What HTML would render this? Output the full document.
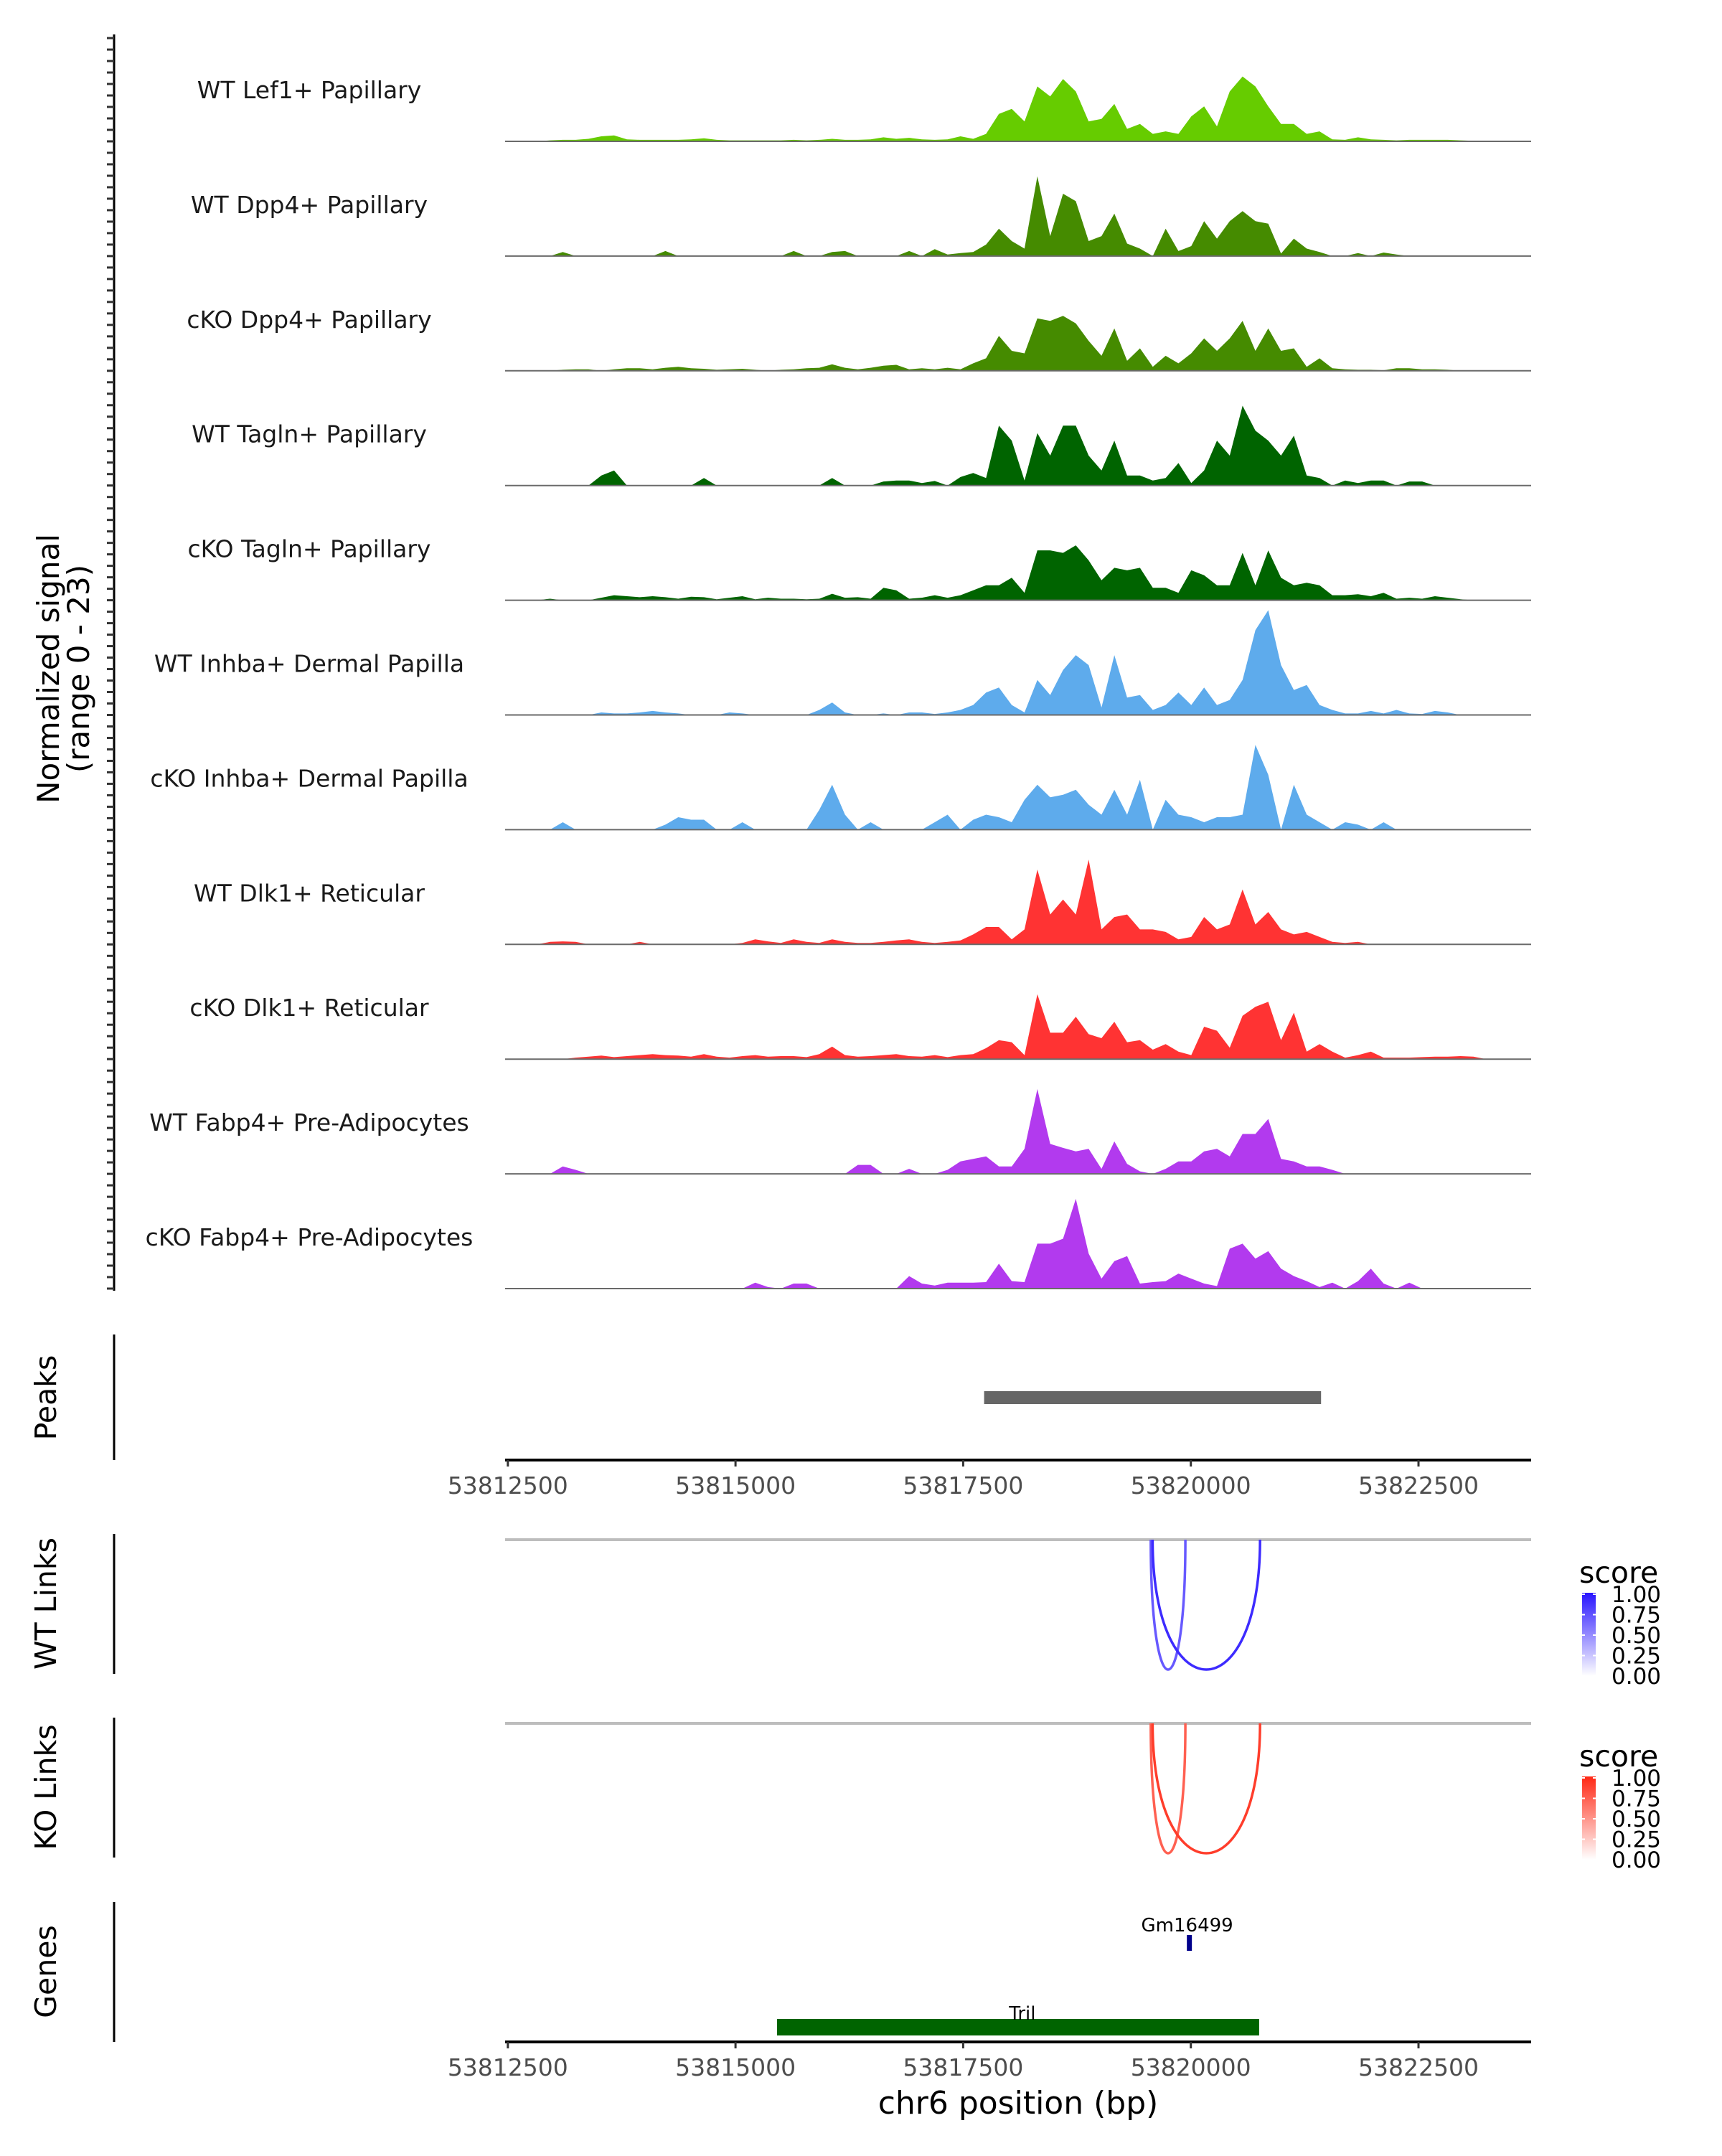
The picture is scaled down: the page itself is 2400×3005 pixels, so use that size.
<!DOCTYPE html>
<html><head><meta charset="utf-8"><style>
html,body{margin:0;padding:0;background:#fff}
svg text{font-family:"DejaVu Sans","Liberation Sans",sans-serif}
</style></head><body>
<svg id="fig" width="2400" height="3000" viewBox="0 0 2400 3000" xmlns="http://www.w3.org/2000/svg">
<rect width="2400" height="3000" fill="#fff"/>
<g id="tracks"></g>
<g id="leftaxis"></g>
<text transform="translate(82,932) rotate(-90)" text-anchor="middle" font-size="42" fill="#000">Normalized signal</text>
<text transform="translate(124,932) rotate(-90)" text-anchor="middle" font-size="42" fill="#000">(range 0 - 23)</text>
<g id="peaks"></g>
<g id="links"></g>
<g id="genes"></g>
<g id="xaxes"></g>
<text x="1419" y="2946" text-anchor="middle" font-size="44" fill="#000">chr6 position (bp)</text>
</svg>
<script>
const trackNames = ["WT Lef1+ Papillary","WT Dpp4+ Papillary","cKO Dpp4+ Papillary","WT Tagln+ Papillary","cKO Tagln+ Papillary","WT Inhba+ Dermal Papilla","cKO Inhba+ Dermal Papilla","WT Dlk1+ Reticular","cKO Dlk1+ Reticular","WT Fabp4+ Pre-Adipocytes","cKO Fabp4+ Pre-Adipocytes"];
const trackColors = ["#66cc00","#458b00","#458b00","#006400","#006400","#5eabec","#5eabec","#ff3333","#ff3333","#b23aee","#b23aee"];
const t1 = [0,0,0,0.2,0.3,0.3,0.5,1,1.2,0.4,0.3,0.3,0.3,0.3,0.4,0.6,0.3,0.2,0.2,0.2,0.2,0.2,0.3,0.2,0.3,0.5,0.3,0.3,0.4,0.8,0.5,0.7,0.4,0.3,0.4,1,0.5,1.5,5.5,6.5,4,11,9,12.5,10,4,4.5,7.5,2.5,3.5,1.5,2,1.5,5,7,3,10,13,11,7,3.5,3.5,1.5,2,0.4,0.3,0.8,0.4,0.3,0.2,0.3,0.3,0.3,0.3,0.2,0.1,0,0,0,0];
const t2 = [0,0,0,0,0.8,0,0,0,0,0,0,0,1,0,0,0,0,0,0,0,0,0,1,0,0,0.8,1,0,0,0,0,1,0,1.4,0.3,0.6,0.8,2.3,5.5,3,1.5,16,4,12.5,11,3,4,8.5,2.5,1.5,0,5.5,1,2,7,3.5,7,9,7,6.5,0.5,3.5,1.5,0.8,0,0,0.6,0,0.7,0.3,0,0,0,0,0,0,0,0,0,0];
const t3 = [0,0,0,0,0.2,0.3,0.3,0,0.3,0.5,0.5,0.3,0.6,0.8,0.5,0.4,0.2,0.3,0.4,0.2,0,0.2,0.3,0.5,0.6,1.3,0.6,0.3,0.6,1,1.2,0.3,0.5,0.3,0.6,0.3,1.5,2.5,7,4,3.5,10.5,10,11,9.5,6,3,8.5,2,4.5,0.8,3,1.5,3.5,6.5,4,6.5,10,4,8.5,4,4.5,0.8,2.5,0.5,0.3,0.2,0.2,0.1,0.5,0.5,0.3,0.3,0.2,0,0,0,0,0,0];
const t4 = [0,0,0,0,0,0,0,2,3,0,0,0,0,0,0,1.5,0,0,0,0,0,0,0,0,0,1.5,0,0,0,0.8,1,1,0.5,0.9,0,1.7,2.5,1.5,12,9,1,10.5,6,12,12,6,3,9,2,2,1,1.5,4.5,0.5,3,9,6,16,11,9,6,10,2,1.5,0,1,0.5,1,1,0,0.8,0.8,0,0,0,0,0,0,0,0];
const t5 = [0,0,0,0.3,0,0,0,0.5,1,0.8,0.6,0.8,0.6,0.3,0.7,0.6,0.2,0.5,0.8,0.2,0.5,0.3,0.3,0.2,0.3,1.3,0.5,0.6,0.3,2.5,2,0.3,0.5,1,0.5,1,2,3,3,4.5,1.5,10,10,9.5,11,8,4,6.5,6,6.5,2.5,2.5,1.5,6,5,3,3,9.5,3,10,4.5,3,3.5,3,1,1,1.2,0.8,1.5,0.3,0.5,0.3,0.8,0.5,0.2,0,0,0,0,0];
const t6 = [0,0,0,0,0,0,0,0.5,0.3,0.3,0.5,0.8,0.5,0.3,0,0,0,0.5,0.3,0,0,0,0,0,1,2.5,0.5,0,0,0.3,0,0.5,0.5,0.2,0.5,1,2,4.5,5.5,2,0.5,7,4,9,12,10,1.5,12,3.5,4,1,2,4.5,2,5.5,2,3,7,17,21,10,5,6,2,1,0.3,0.3,0.8,0.3,1,0.3,0.2,0.8,0.5,0,0,0,0,0,0];
const t7 = [0,0,0,0,1.5,0,0,0,0,0,0,0,1,2.5,2,2,0,0,1.5,0,0,0,0,0,4,9,3,0,1.5,0,0,0,0,1.5,3,0,2,3,2.5,1.5,6,9,6.5,7,8,5,3,8,3,10,0,6,3,2.5,1.5,2.5,2.5,3,17,11,0,9,3,1.5,0,1.5,1,0,1.5,0,0,0,0,0,0,0,0,0,0,0];
const t8 = [0,0,0,0.5,0.6,0.5,0,0,0,0,0.5,0,0,0,0,0,0,0,0.3,1,0.6,0.3,1,0.5,0.3,1,0.5,0.3,0.3,0.5,0.8,1,0.5,0.3,0.5,0.8,2,3.5,3.5,1,3,15,6,9,6,17,3,5.5,6,3,3,2.5,1,1.5,5.5,3,4,11,4,6.5,3,2,2.5,1.5,0.5,0.3,0.5,0,0,0,0,0,0,0,0,0,0,0,0,0];
const t9 = [0,0,0,0,0,0.3,0.5,0.7,0.4,0.6,0.8,1,0.8,0.7,0.5,1,0.5,0.3,0.6,0.8,0.5,0.6,0.6,0.4,1,2.5,0.8,0.5,0.6,0.8,1,0.6,0.5,0.8,0.4,0.8,1,2.2,3.8,3.4,0.8,13,5.3,5.3,8.5,5,4.2,7.5,3.4,3.8,1.9,3,1.5,0.8,6.5,5.7,2.3,8.7,10.5,11.5,3.8,9.3,1.5,3,1.5,0.3,0.8,1.5,0.3,0.3,0.3,0.4,0.5,0.5,0.6,0.5,0,0,0,0];
const t10 = [0,0,0,0,1.5,0.8,0,0,0,0,0,0,0,0,0,0,0,0,0,0,0,0,0,0,0,0,0,1.8,1.8,0,0,1,0,0,0.8,2.5,3,3.5,1.5,1.5,5,17,6,5.2,4.5,5,1,6.5,2,0.5,0,1,2.5,2.5,4.5,5,3.5,8,8,11,3,2.5,1.5,1.5,0.8,0,0,0,0,0,0,0,0,0,0,0,0,0,0,0];
const t11 = [0,0,0,0,0,0,0,0,0,0,0,0,0,0,0,0,0,0,0,1.2,0.3,0,1,1,0,0,0,0,0,0,0,2.5,1,0.6,1.2,1.2,1.2,1.3,5,1.5,1.3,9,9,10,18,7,2,5.5,6.5,1,1.3,1.5,3,2,1,0.5,8,9,6,7.5,4,2.5,1.5,0.3,1.2,0,1.5,4,1,0,1.2,0,0,0,0,0,0,0,0,0];
const signals = [t1,t2,t3,t4,t5,t6,t7,t8,t9,t10,t11];
const xTicks = [53812500,53815000,53817500,53820000,53822500];
const peakRegion = [53817730,53821430];
const wtLinkStarts = [53819560,53819580];
const wtLinkEnds = [53819940,53820760];
const wtLinkScores = [0.55,0.85];
const koLinkStarts = [53819560,53819580];
const koLinkEnds = [53819940,53820760];
const koLinkScores = [0.6,0.85];
const legendTicks = ["1.00","0.75","0.50","0.25","0.00"];

const NS="http://www.w3.org/2000/svg";
const XMIN=53812470, XMAX=53823737, PX0=704, PX1=2134;
const YMAX=23, TRACK_H=159.9, BASE0=197;
function xs(bp){return PX0+(bp-XMIN)/(XMAX-XMIN)*(PX1-PX0);}
function mk(tag,attrs,parent){const e=document.createElementNS(NS,tag);for(const k in attrs)e.setAttribute(k,attrs[k]);parent.appendChild(e);return e;}

const tracks=document.getElementById('tracks');
signals.forEach((vals,k)=>{
  const base=BASE0+k*TRACK_H;
  const ys=v=>base-v/YMAX*TRACK_H;
  const bw=(XMAX-XMIN)/vals.length;
  let d="M"+xs(XMIN)+","+base;
  vals.forEach((v,i)=>{
    const xc=xs(XMIN+(i+0.5)*bw);
    d+=" L"+xc.toFixed(1)+","+ys(v).toFixed(1);
  });
  d+=" L"+xs(XMAX)+","+base+" Z";
  const p=mk('path',{d:d,fill:trackColors[k],stroke:'none'},tracks);
  
  
  const bl=mk('line',{x1:PX0,x2:PX1,y1:base,y2:base,stroke:'#6a6a6a','stroke-width':2},tracks);
  
  
  const t=mk('text',{x:431,y:base-60,'text-anchor':'middle','font-size':33,fill:'#1a1a1a'},tracks);
  t.textContent=trackNames[k];
  
  
});

const la=document.getElementById('leftaxis');
mk('line',{x1:159,x2:159,y1:48,y2:1799,stroke:'#000','stroke-width':3},la);
for(let k=0;k<11;k++){
  const base=BASE0+k*TRACK_H;
  for(let j=0;j<10;j++){
    const y=base-j*TRACK_H/10;
    if(y<50)continue;
    const tk=mk('line',{x1:149,x2:159,y1:y,y2:y,stroke:'#333','stroke-width':3},la);
    
    
  }
}

const pk=document.getElementById('peaks');
mk('line',{x1:159,x2:159,y1:1860,y2:2035,stroke:'#000','stroke-width':3},pk);
const pl=mk('text',{transform:'translate(78,1948) rotate(-90)','text-anchor':'middle','font-size':41,fill:'#000'},pk);
pl.textContent="Peaks";


const pr=mk('rect',{x:xs(peakRegion[0]),y:1939,width:xs(peakRegion[1])-xs(peakRegion[0]),height:18,fill:'#666'},pk);



const xa=document.getElementById('xaxes');
[2035,2846].forEach(y=>{
  mk('line',{x1:PX0,x2:PX1,y1:y,y2:y,stroke:'#000','stroke-width':4},xa);
  xTicks.forEach(v=>{
    const tk=mk('line',{x1:xs(v),x2:xs(v),y1:y,y2:y+9,stroke:'#333','stroke-width':3},xa);
    
    
    const t=mk('text',{x:xs(v),y:y+47,'text-anchor':'middle','font-size':33,fill:'#4d4d4d'},xa);
    t.textContent=v;
    
    
  });
});

const lk=document.getElementById('links');
function linkPanel(top,label,starts,ends,scores,rgb,idp){
  const bottom=top+195, line=top+8, depth=bottom-6-line;
  mk('line',{x1:159,x2:159,y1:top,y2:bottom,stroke:'#000','stroke-width':3},lk);
  const l=mk('text',{transform:'translate(78,'+(top+97)+') rotate(-90)','text-anchor':'middle','font-size':41,fill:'#000'},lk);
  l.textContent=label;
  
  
  mk('line',{x1:PX0,x2:PX1,y1:line,y2:line,stroke:'#bdbdbd','stroke-width':4},lk);
  starts.forEach((s,i)=>{
    const x1=xs(s),x2=xs(ends[i]),c=line+depth/0.75;
    const s2=scores[i];
    const col='rgb('+rgb.map(v=>Math.round(255-(255-v)*(0.35+0.65*s2))).join(',')+')';
    const p=mk('path',{d:'M'+x1+','+line+' C'+x1+','+c+' '+x2+','+c+' '+x2+','+line,fill:'none',stroke:col,'stroke-width':3.5},lk);
    
    
  });
  const ly=top+72;
  const st=mk('text',{x:2201,y:ly-4,'font-size':41,fill:'#000'},lk);
  st.textContent="score";
  
  
  const gid='g'+idp;
  const g=mk('linearGradient',{id:gid,x1:0,y1:0,x2:0,y2:1},lk);
  mk('stop',{offset:0,'stop-color':'rgb('+rgb.join(',')+')'},g);
  mk('stop',{offset:1,'stop-color':'#fff'},g);
  const bar=mk('rect',{x:2205,y:ly+10,width:19,height:116,fill:'url(#'+gid+')'},lk);
  
  
  legendTicks.forEach((t,i)=>{
    const y=ly+12+i*28.5;
    mk('line',{x1:2205,x2:2209,y1:y,y2:y,stroke:'#fff','stroke-width':2},lk);
    mk('line',{x1:2220,x2:2224,y1:y,y2:y,stroke:'#fff','stroke-width':2},lk);
    const tx=mk('text',{x:2246,y:y+11,'font-size':31,fill:'#000'},lk);
    tx.textContent=t;
    
    
  });
}
linkPanel(2138,"WT Links",wtLinkStarts,wtLinkEnds,wtLinkScores,[40,20,255],'wt');
linkPanel(2394,"KO Links",koLinkStarts,koLinkEnds,koLinkScores,[255,40,20],'ko');

const gn=document.getElementById('genes');
mk('line',{x1:159,x2:159,y1:2651,y2:2846,stroke:'#000','stroke-width':3},gn);
const gl=mk('text',{transform:'translate(78,2748) rotate(-90)','text-anchor':'middle','font-size':41,fill:'#000'},gn);
gl.textContent="Genes";


const tril=mk('rect',{x:xs(53815456),y:2814,width:xs(53820750)-xs(53815456),height:23,fill:'#006400'},gn);


const trt=mk('text',{x:xs(53818150),y:2815,'text-anchor':'middle','font-size':26,fill:'#000'},gn);
trt.textContent="Tril";


const gm=mk('rect',{x:xs(53819980)-3,y:2697,width:7,height:22,fill:'#00008b'},gn);


const gmt=mk('text',{x:xs(53819960),y:2692,'text-anchor':'middle','font-size':26,fill:'#000'},gn);
gmt.textContent="Gm16499";


</script>
</body></html>
